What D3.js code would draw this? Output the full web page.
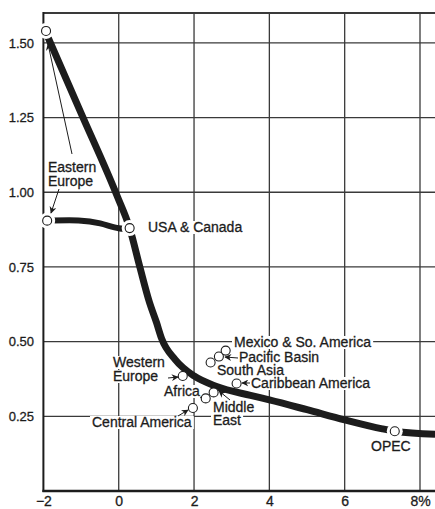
<!DOCTYPE html>
<html>
<head>
<meta charset="utf-8">
<script src="https://cdn.jsdelivr.net/npm/d3@7"></script>
<style>
  html, body { margin: 0; padding: 0; background: #fff; }
  svg { display: block; font-family: "Liberation Sans", Arial, Helvetica, sans-serif; }
</style>
</head>
<body>
<script>
// ---- data ----
const xTicks = [-2, 0, 2, 4, 6, 8];
const xTickLabels = ["\u22122", "0", "2", "4", "6", "8%"];
const yTicks = [0.25, 0.50, 0.75, 1.00, 1.25, 1.50];
const yTickLabels = ["0.25", "0.50", "0.75", "1.00", "1.25", "1.50"];

// main curve (x, y)
const curveX = [-1.9, -1.0, -0.05, 0.29, 0.56, 0.82, 1.0, 1.14, 1.5, 2.0, 2.6, 3.5, 4.0, 5.0, 6.0, 7.0, 7.35, 8.4];
const curveY = [1.525, 1.265, 0.99, 0.88, 0.75, 0.63, 0.565, 0.51, 0.44, 0.385, 0.35, 0.32, 0.305, 0.272, 0.238, 0.208, 0.2, 0.19];

// Eastern Europe short curve
const eeX = [-1.9, -1.0, -0.5, 0.05, 0.29];
const eeY = [0.905, 0.908, 0.898, 0.875, 0.88];

// region points
const regions = ["Eastern Europe (a)", "Eastern Europe (b)", "USA & Canada", "Western Europe", "Africa", "Middle East",
                 "Central America", "South Asia", "Pacific Basin", "Mexico & So. America", "Caribbean America", "OPEC"];
const regionX = [-1.93, -1.9, 0.29, 1.70, 2.31, 2.52, 1.97, 2.44, 2.66, 2.84, 3.13, 7.33];
const regionY = [1.54, 0.905, 0.88, 0.385, 0.31, 0.33, 0.278, 0.43, 0.45, 0.47, 0.36, 0.20];

// ---- layout ----
const W = 435, H = 509;
const svg = d3.select("body").append("svg").attr("width", W).attr("height", H);

const x = d3.scaleLinear().domain([-2, 8]).range([43.4, 420]);
const y = d3.scaleLinear().domain([0, 1.6]).range([491, 13]);

const ink = "#1c1c1c";
const gridC = "#3a3a3a";

svg.append("defs").append("marker")
  .attr("id", "arr").attr("viewBox", "0 0 10 10").attr("refX", 9).attr("refY", 5)
  .attr("markerWidth", 7).attr("markerHeight", 7).attr("orient", "auto-start-reverse")
  .attr("markerUnits", "userSpaceOnUse")
  .append("path").attr("d", "M0,0 L10,5 L0,10 L3,5 Z").attr("fill", ink);

// grid
const g = svg.append("g");
g.selectAll("line.v").data(xTicks.slice(1)).join("line")
  .attr("x1", d => x(d)).attr("x2", d => x(d)).attr("y1", y(1.6)).attr("y2", y(0))
  .attr("stroke", gridC).attr("stroke-width", 1.3);
g.selectAll("line.h").data(yTicks.concat([1.6])).join("line")
  .attr("x1", x(-2)).attr("x2", W).attr("y1", d => y(d)).attr("y2", d => y(d))
  .attr("stroke", gridC).attr("stroke-width", d => d === 1.6 ? 1.8 : 1.3);
// axes lines
g.append("line").attr("x1", x(-2)).attr("x2", x(-2)).attr("y1", y(1.6) - 1).attr("y2", y(0) + 1)
  .attr("stroke", ink).attr("stroke-width", 2);
g.append("line").attr("x1", x(-2) - 1).attr("x2", W).attr("y1", y(0)).attr("y2", y(0))
  .attr("stroke", ink).attr("stroke-width", 2.5);

// axis labels via d3 axes
const yAxis = d3.axisLeft(y).tickValues(yTicks).tickSize(0).tickPadding(0)
  .tickFormat((d, i) => yTickLabels[i]);
const ya = svg.append("g").attr("transform", "translate(34,0)").call(yAxis);
ya.select(".domain").remove();
ya.selectAll("text").attr("font-size", 13).attr("fill", ink)
  .attr("stroke", ink).attr("stroke-width", 0.3)
  .attr("font-family", "Liberation Sans, Arial, sans-serif");

const xAxis = d3.axisBottom(x).tickValues(xTicks).tickSize(0).tickPadding(0)
  .tickFormat((d, i) => xTickLabels[i]);
const xa = svg.append("g").attr("transform", "translate(0,496)").call(xAxis);
xa.select(".domain").remove();
xa.selectAll("text").attr("font-size", 14).attr("fill", ink).attr("dy", "0.71em")
  .attr("stroke", ink).attr("stroke-width", 0.3)
  .attr("font-family", "Liberation Sans, Arial, sans-serif");

// labels (with white background masking gridlines)
const labels = [
  {t: "Eastern", x: 48, y: 172}, {t: "Europe", x: 48, y: 186},
  {t: "USA & Canada", x: 148, y: 232},
  {t: "Western", x: 113, y: 367}, {t: "Europe", x: 113, y: 381},
  {t: "Africa", x: 164, y: 396},
  {t: "Middle", x: 213, y: 412}, {t: "East", x: 213, y: 425},
  {t: "Central America", x: 92, y: 427},
  {t: "Mexico & So. America", x: 234, y: 347},
  {t: "Pacific Basin", x: 239, y: 362},
  {t: "South Asia", x: 217, y: 375},
  {t: "Caribbean America", x: 251, y: 388},
  {t: "OPEC", x: 371, y: 451}
];
const bgG = svg.append("g");
const lg = svg.append("g");
const texts = lg.selectAll("text").data(labels).join("text")
  .attr("x", d => d.x).attr("y", d => d.y).text(d => d.t)
  .attr("font-size", 14).attr("fill", ink)
  .attr("stroke", ink).attr("stroke-width", 0.3);
texts.each(function() {
  const b = this.getBBox();
  bgG.append("rect").attr("x", b.x - 2).attr("y", b.y + 2).attr("width", b.width + 4).attr("height", b.height - 3)
    .attr("fill", "#fff");
});

// curves (drawn over label backgrounds but under circles)
const cg = svg.insert("g", () => lg.node());
const line = d3.line().x(d => x(d[0])).y(d => y(d[1])).curve(d3.curveMonotoneX);
cg.append("path").datum(curveX.map((v, i) => [v, curveY[i]])).attr("d", line)
  .attr("fill", "none").attr("stroke", ink).attr("stroke-width", 7).attr("stroke-linecap", "butt");
cg.append("path").datum(eeX.map((v, i) => [v, eeY[i]]))
  .attr("d", d3.line().x(d => x(d[0])).y(d => y(d[1])).curve(d3.curveBasis))
  .attr("fill", "none").attr("stroke", ink).attr("stroke-width", 6);

// halos + circles
const pts = regions.map((r, i) => ({r, x: regionX[i], y: regionY[i]}));
const halo = new Set(["Eastern Europe (a)", "Eastern Europe (b)", "USA & Canada", "OPEC"]);
svg.append("g").selectAll("circle").data(pts.filter(p => halo.has(p.r))).join("circle")
  .attr("cx", d => x(d.x)).attr("cy", d => y(d.y)).attr("r", 8).attr("fill", "#fff");
svg.append("g").selectAll("circle").data(pts).join("circle")
  .attr("cx", d => x(d.x)).attr("cy", d => y(d.y)).attr("r", 4.5)
  .attr("fill", "#fff").attr("stroke", ink).attr("stroke-width", 1.1);

// leader lines with arrows (pixel annotations)
const leaders = [
  [72, 154, 48, 44],
  [59, 189, 51, 213],
  [168, 378, 178, 377],
  [238, 358, 225, 357],
  [250, 383, 242, 383],
  [230, 400, 219, 391],
  [178, 416, 188, 410]
];
svg.append("g").selectAll("line").data(leaders).join("line")
  .attr("x1", d => d[0]).attr("y1", d => d[1]).attr("x2", d => d[2]).attr("y2", d => d[3])
  .attr("stroke", ink).attr("stroke-width", 1).attr("marker-end", "url(#arr)");
// Africa connector
svg.append("line").attr("x1", 200).attr("y1", 397).attr("x2", 202).attr("y2", 398)
  .attr("stroke", ink).attr("stroke-width", 1);
</script>
</body>
</html>
